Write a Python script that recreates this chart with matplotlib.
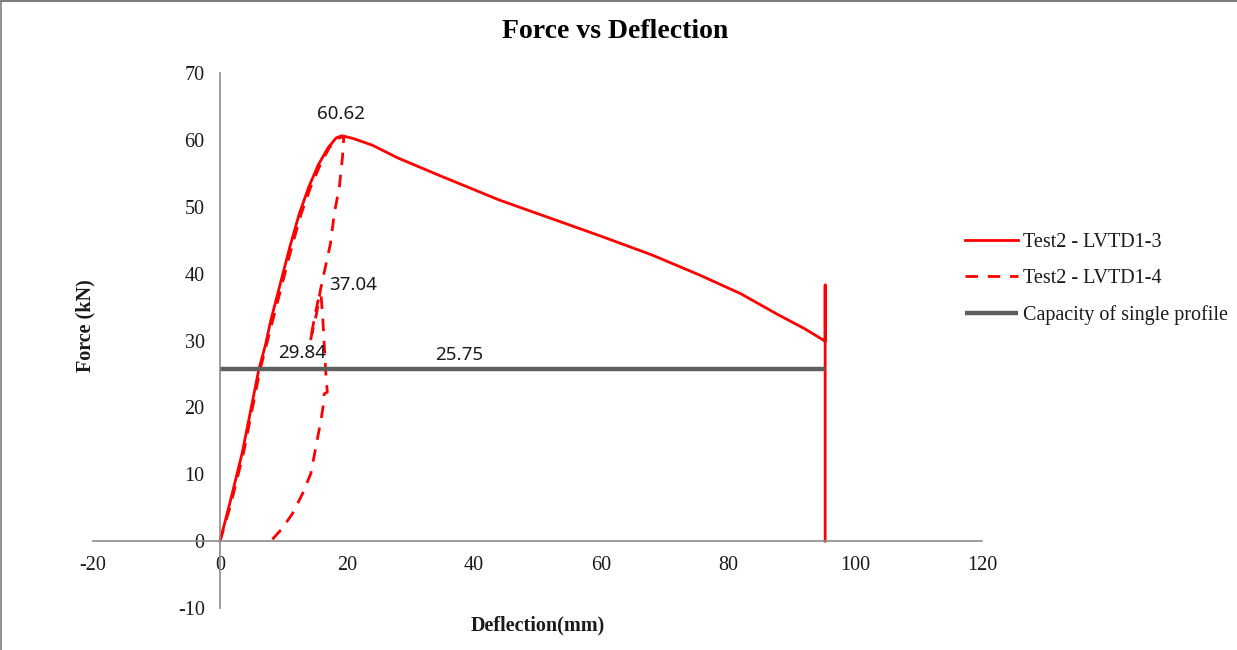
import matplotlib
matplotlib.use("Agg")
import matplotlib.pyplot as plt
from matplotlib.lines import Line2D

plt.rcParams["axes.unicode_minus"] = False

# Test2 - LVTD1-3 (solid): loading to peak, softening branch, then the end-of-test drop
lvtd13_x = [0, 1.5, 3.5, 6.1, 7.2, 8.0, 9.5, 11.0, 12.5, 14.0, 15.5, 17.0, 18.3, 19.2,
            21.0, 24.0, 28.0, 34.5, 44.0, 52.0, 60.0, 68.0, 75.5, 82.0, 88.0, 92.0,
            95.3, 95.3, 95.3]
lvtd13_y = [0, 5.5, 13.2, 25.6, 29.5, 33.0, 38.5, 44.0, 49.0, 53.0, 56.3, 58.8, 60.3, 60.62,
            60.2, 59.2, 57.3, 54.7, 51.0, 48.3, 45.6, 42.8, 39.8, 37.0, 33.8, 31.8,
            29.9, 38.3, 0]

# Test2 - LVTD1-4 (dashed): loading, drop to 29.84, reload to 37.04, unloading
lvtd14_x = [0, 1.7, 3.7, 6.3, 8.3, 9.8, 11.3, 12.8, 14.3, 15.8, 17.2, 18.5, 19.5,
            19.3, 18.8, 18.0, 17.4, 16.6, 15.8, 15.2, 14.6, 14.2,
            14.8, 15.4, 15.9,
            16.2, 16.5, 16.7, 16.9, 16.4,
            16.3, 15.9, 15.1, 14.3, 13.0, 11.4, 9.8, 8.0]
lvtd14_y = [0, 5.5, 13.2, 25.6, 33.0, 38.5, 44.0, 49.0, 53.0, 56.3, 58.8, 60.2, 60.5,
            57.5, 53.0, 49.0, 44.5, 41.0, 37.5, 34.0, 31.5, 29.84,
            33.0, 35.8, 37.04,
            33.0, 28.0, 24.5, 22.3, 22.0,
            20.5, 18.1, 14.1, 10.1, 7.1, 4.1, 1.9, 0]

# Capacity of single profile
capacity_x = [0, 37.7, 95.3]
capacity_y = [25.75, 25.75, 25.75]

x_ticks = [-20, 0, 20, 40, 60, 80, 100, 120]
y_ticks = [-10, 0, 10, 20, 30, 40, 50, 60, 70]

serif = "Liberation Serif"
sans = "Noto Sans"
red = "#ff0000"
grey_line = "#606060"
axis_grey = "#8c8c8c"
text_col = "#1a1a1a"

fig = plt.figure(figsize=(12.37, 6.5), dpi=100)
ax = fig.add_axes([93 / 1237, 1 - 608 / 650, (982 - 93) / 1237, (608 - 73) / 650])

ax.plot(lvtd13_x, lvtd13_y, color=red, lw=2.0, solid_joinstyle="round",
        label="Test2 - LVTD1-3")
ax.plot(lvtd14_x, lvtd14_y, color=red, lw=2.0, linestyle=(0, (4.5, 3.5)),
        label="Test2 - LVTD1-4")
ax.plot(capacity_x, capacity_y, color=grey_line, lw=3.2, solid_capstyle="butt",
        label="Capacity of single profile")

ax.set_xlim(-20, 120)
ax.set_ylim(-10, 70)
ax.set_xticks(x_ticks)
ax.set_yticks(y_ticks)

# Axes cross at the origin
for side in ("top", "right"):
    ax.spines[side].set_visible(False)
ax.spines["left"].set_position(("data", 0))
ax.spines["bottom"].set_position(("data", 0))
for side in ("left", "bottom"):
    ax.spines[side].set_color(axis_grey)
    ax.spines[side].set_linewidth(1.2)
ax.tick_params(axis="both", length=0, labelsize=14.5, labelcolor=text_col)
ax.tick_params(axis="y", pad=11)
ax.tick_params(axis="x", pad=11)
for lbl in ax.get_xticklabels() + ax.get_yticklabels():
    lbl.set_fontfamily(serif)

# Data labels
def value_label(x, y, dx, dy, ha="center"):
    ax.annotate(f"{y:.2f}", xy=(x, y), xytext=(dx, dy), textcoords="offset points",
                ha=ha, va="center", fontsize=13.5, family=sans, color=text_col)

value_label(lvtd13_x[13], lvtd13_y[13], -1, 16)
value_label(lvtd14_x[24], lvtd14_y[24], 6, 6, ha="left")
value_label(lvtd14_x[21], lvtd14_y[21], -6, -8)
value_label(capacity_x[1], capacity_y[1], 0, 10)

fig.text(0.5 - 0.003, 1 - 31 / 650, "Force vs Deflection", ha="center", va="center",
         fontsize=20, fontweight="bold", family=serif, color="black")
fig.text(85 / 1237, 1 - 326 / 650, "Force (kN)", ha="center", va="center",
         rotation=90, fontsize=14.5, fontweight="bold", family=serif, color=text_col)
fig.text(538 / 1237, 1 - 625 / 650, "Deflection(mm)", ha="center", va="center",
         fontsize=14.5, fontweight="bold", family=serif, color=text_col)

leg = fig.legend(loc="center left", bbox_to_anchor=(947 / 1237, 1 - 279 / 650),
                 frameon=False, prop={"family": serif, "size": 14.5},
                 handlelength=2.65, handletextpad=0.2, labelspacing=0.85)
for t in leg.get_texts():
    t.set_color(text_col)

# Outer frame (top and left edges)
fig.add_artist(Line2D([0, 1], [0.999, 0.999], transform=fig.transFigure,
                      color="#7f7f7f", lw=1.5))
fig.add_artist(Line2D([0.0008, 0.0008], [0, 1], transform=fig.transFigure,
                      color="#7f7f7f", lw=1.2))

fig.savefig("out.png", dpi=100)
